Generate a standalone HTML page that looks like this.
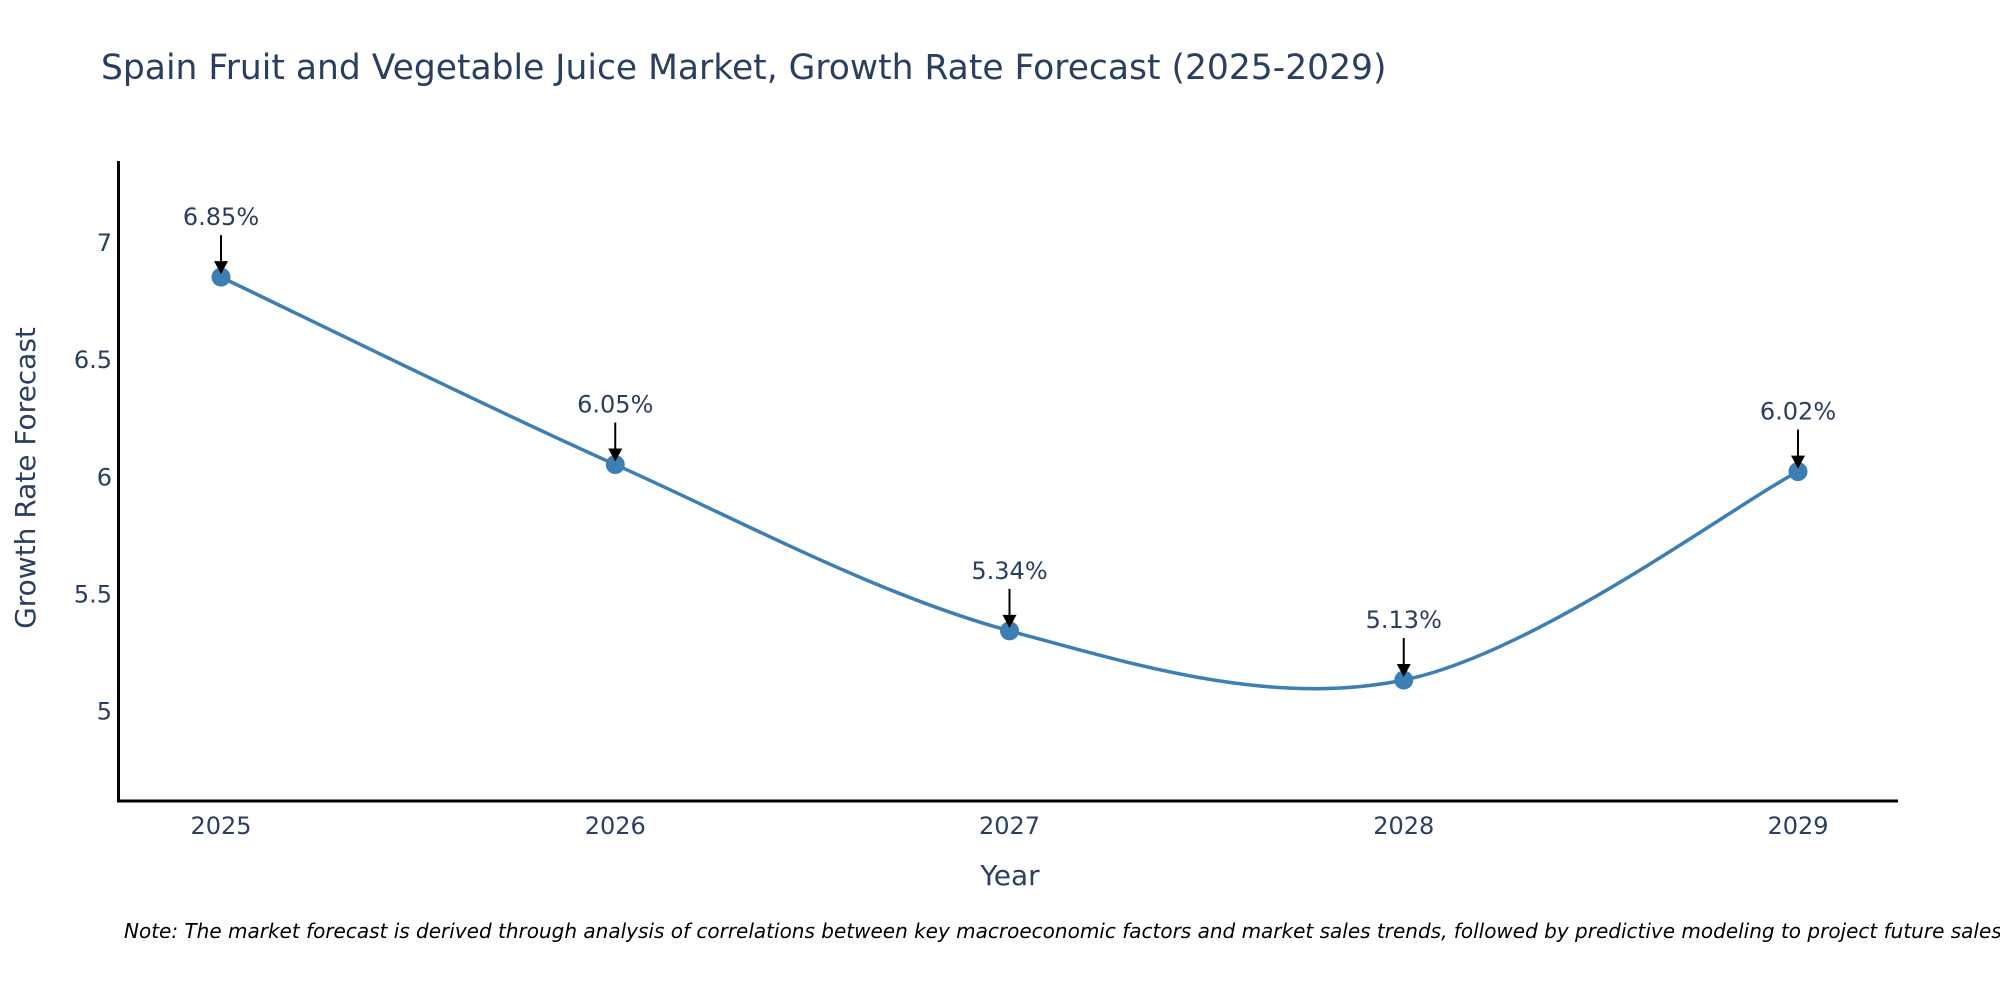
<!DOCTYPE html>
<html><head><meta charset="utf-8"><style>
body{margin:0;background:#fff;}
svg{display:block;font-family:"DejaVu Sans","Liberation Sans",sans-serif;}
</style></head><body>
<svg id="chart" width="2000" height="1000" viewBox="0 0 2000 1000">
<text x="101" y="79" font-size="34.5" fill="#2a3f5f">Spain Fruit and Vegetable Juice Market, Growth Rate Forecast (2025-2029)</text>
<g id="yticks"></g><g id="xticks"></g>
<path id="line" fill="none" stroke="#3d7fb3" stroke-width="3.5"/>
<g id="points"></g><g id="ann"></g>
<line x1="118.5" y1="161" x2="118.5" y2="802" stroke="#000" stroke-width="3"/>
<line x1="117" y1="801" x2="1898" y2="801" stroke="#000" stroke-width="3"/>
<text x="1010" y="885" font-size="28" fill="#2a3f5f" text-anchor="middle">Year</text>
<text transform="translate(35,478) rotate(-90)" font-size="28" fill="#2a3f5f" text-anchor="middle">Growth Rate Forecast</text>
<text x="124" y="938" font-size="20" font-style="italic" fill="#000">Note: The market forecast is derived through analysis of correlations between key macroeconomic factors and market sales trends, followed by predictive modeling to project future sales.</text>
</svg>
<script>
const years = [2025, 2026, 2027, 2028, 2029];
const values = [6.85, 6.05, 5.34, 5.13, 6.02];
const labels = ["6.85%", "6.05%", "5.34%", "5.13%", "6.02%"];
const yTicks = [5, 5.5, 6, 6.5, 7];
const NS = "http://www.w3.org/2000/svg";
function xs(v){ return 221 + (v - 2025) * 394.25; }
function ys(v){ return 710.5 - (v - 5) * 234.25; }
function mk(tag, attrs, parent){ const e = document.createElementNS(NS, tag); for (const k in attrs) e.setAttribute(k, attrs[k]); parent.appendChild(e); return e; }
const yg = document.getElementById('yticks');
yTicks.forEach(t => {
  const e = mk('text', {x:112, y:ys(t)+9, 'font-size':24, fill:'#2a3f5f', 'text-anchor':'end'}, yg);
  e.textContent = String(t);
  
  
});
const xg = document.getElementById('xticks');
years.forEach(t => {
  const e = mk('text', {x:xs(t), y:834, 'font-size':24, fill:'#2a3f5f', 'text-anchor':'middle'}, xg);
  e.textContent = String(t);
  
  
});
const P = years.map((y, i) => [xs(y), ys(values[i])]);
let d = `M${P[0][0]},${P[0][1]}`;
for (let i = 0; i < P.length - 1; i++) {
  const p0 = P[Math.max(0, i-1)], p1 = P[i], p2 = P[i+1], p3 = P[Math.min(P.length-1, i+2)];
  const c1 = [p1[0] + (p2[0]-p0[0])/6, p1[1] + (p2[1]-p0[1])/6];
  const c2 = [p2[0] - (p3[0]-p1[0])/6, p2[1] - (p3[1]-p1[1])/6];
  d += ` C${c1[0]},${c1[1]} ${c2[0]},${c2[1]} ${p2[0]},${p2[1]}`;
}
document.getElementById('line').setAttribute('d', d);
const pg = document.getElementById('points'), ag = document.getElementById('ann');
P.forEach((p, i) => {
  const c = mk('circle', {cx:p[0], cy:p[1], r:9.5, fill:'#3d7fb3'}, pg);
  
  
  const l = mk('line', {x1:p[0], y1:p[1]-42, x2:p[0], y2:p[1]-14, stroke:'#000', 'stroke-width':2}, ag);
  
  
  const h = mk('polygon', {points:`${p[0]-7},${p[1]-16} ${p[0]+7},${p[1]-16} ${p[0]},${p[1]-3}`, fill:'#000'}, ag);
  
  
  const t = mk('text', {x:p[0], y:p[1]-52, 'font-size':24, fill:'#2a3f5f', 'text-anchor':'middle'}, ag);
  t.textContent = labels[i];
  
  
});
</script>
</body></html>
